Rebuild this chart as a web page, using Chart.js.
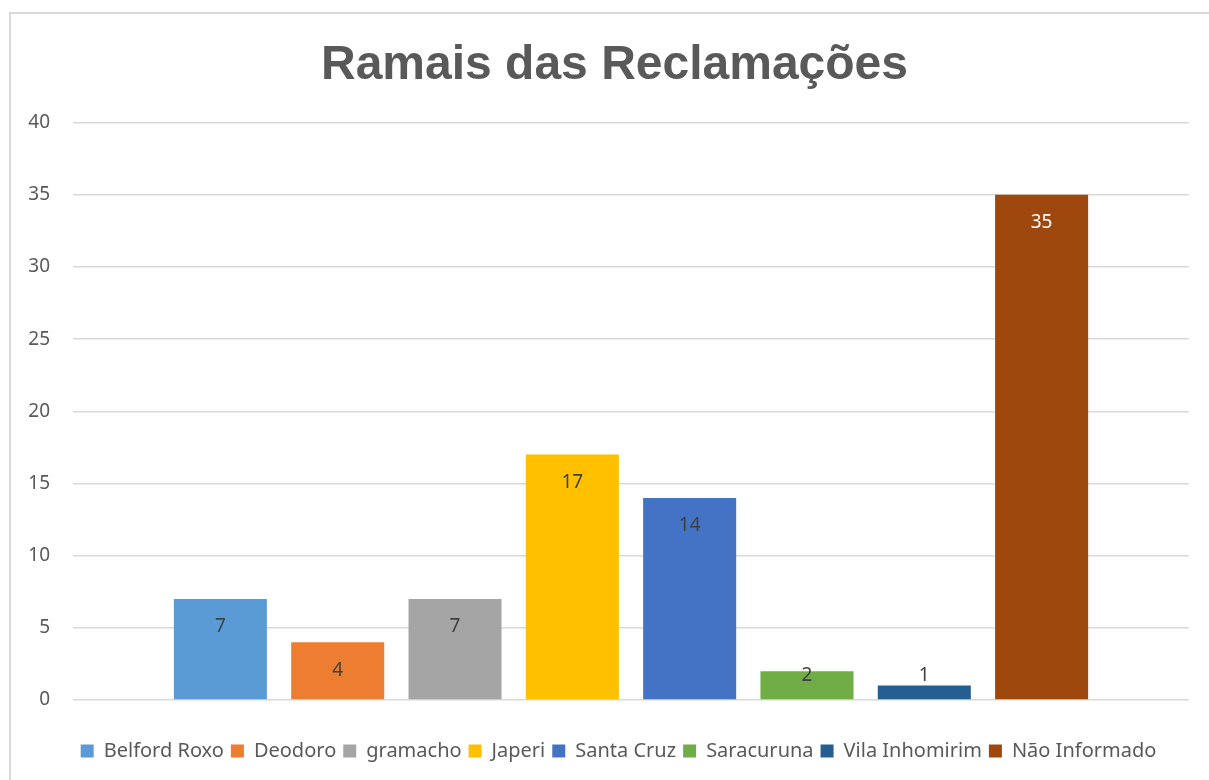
<!DOCTYPE html>
<html>
<head>
<meta charset="utf-8">
<script src="https://cdn.jsdelivr.net/npm/chart.js@4/dist/chart.umd.min.js"></script>
<style>
  html, body { margin: 0; padding: 0; background: #fff; }
  .frame { position: absolute; left: 9px; top: 12px; width: 1220px; height: 800px; border: 2px solid #d9d9d9; box-sizing: border-box; }
  .wrap { position: absolute; left: 0; top: 0; width: 1209px; height: 780px; }
</style>
</head>
<body>
<div class="frame"></div>
<div class="wrap"><canvas id="myChart"></canvas></div>
<script>
"use strict";

const title = "Ramais das Reclamações",
  categories = ["Belford Roxo", "Deodoro", "gramacho", "Japeri", "Santa Cruz", "Saracuruna", "Vila Inhomirim", "Não Informado"],
  values = [7, 4, 7, 17, 14, 2, 1, 35],
  colors = ["#5b9bd5", "#ed7d31", "#a5a5a5", "#ffc000", "#4472c4", "#70ad47", "#255e91", "#9e480e"],
  labelColors = ["#404040", "#404040", "#404040", "#404040", "#404040", "#404040", "#404040", "#ffffff"],
  yMax = 40,
  yStep = 5;

const textFont = "'Noto Sans', sans-serif";

// value labels at the inner end of each bar
const barLabels = {
  id: "barLabels",
  afterLayout(chart) {
    // title and legend sit a bit right of centre in the original
    chart.titleBlock.left += 15;
    chart.titleBlock.right += 15;
    chart.legend.left += 19;
    chart.legend.right += 19;
  },
  afterDatasetsDraw(chart) {
    const ctx = chart.ctx;
    ctx.save();
    ctx.font = "19px " + textFont;
    ctx.textAlign = "center";
    ctx.textBaseline = "middle";
    chart.data.datasets.forEach((ds, i) => {
      const bar = chart.getDatasetMeta(i).data[0];
      let y = Math.min(bar.y + 28, bar.base - 24);
      ctx.fillStyle = labelColors[i];
      ctx.fillText(String(ds.data[0]), bar.x, y);
    });
    ctx.restore();
  }
};

const datasets = categories.map((name, i) => ({
  label: name,
  data: [values[i]],
  backgroundColor: colors[i],
  borderWidth: 0,
  categoryPercentage: 0.841,
  barPercentage: 0.793
}));

new Chart(document.getElementById("myChart"), {
  type: "bar",
  data: { labels: [""], datasets: datasets },
  plugins: [barLabels],
  options: {
    responsive: true,
    maintainAspectRatio: false,
    animation: false,
    layout: { padding: { left: 10, right: 20, top: 0, bottom: 9 } },
    plugins: {
      title: {
        display: true,
        text: title,
        color: "#595959",
        font: { family: "'Liberation Sans', Arial, sans-serif", size: 48, weight: "bold" },
        padding: { top: 37, bottom: 28 }
      },
      legend: {
        position: "bottom",
        labels: {
          color: "#595959",
          font: { family: textFont, size: 20 },
          boxWidth: 13,
          boxHeight: 13,
          padding: 7
        }
      },
      tooltip: { enabled: false }
    },
    scales: {
      x: {
        afterFit(scale) { scale.height = 34; },
        grid: { display: false },
        border: { display: false },
        ticks: { display: false }
      },
      y: {
        min: 0,
        max: yMax,
        afterFit(scale) { scale.width = 63; },
        ticks: {
          stepSize: yStep,
          color: "#595959",
          padding: 23,
          font: { family: textFont, size: 19 }
        },
        grid: { color: "#d9d9d9", lineWidth: 1.5, drawTicks: false },
        border: { display: false }
      }
    }
  }
});
</script>
</body>
</html>
